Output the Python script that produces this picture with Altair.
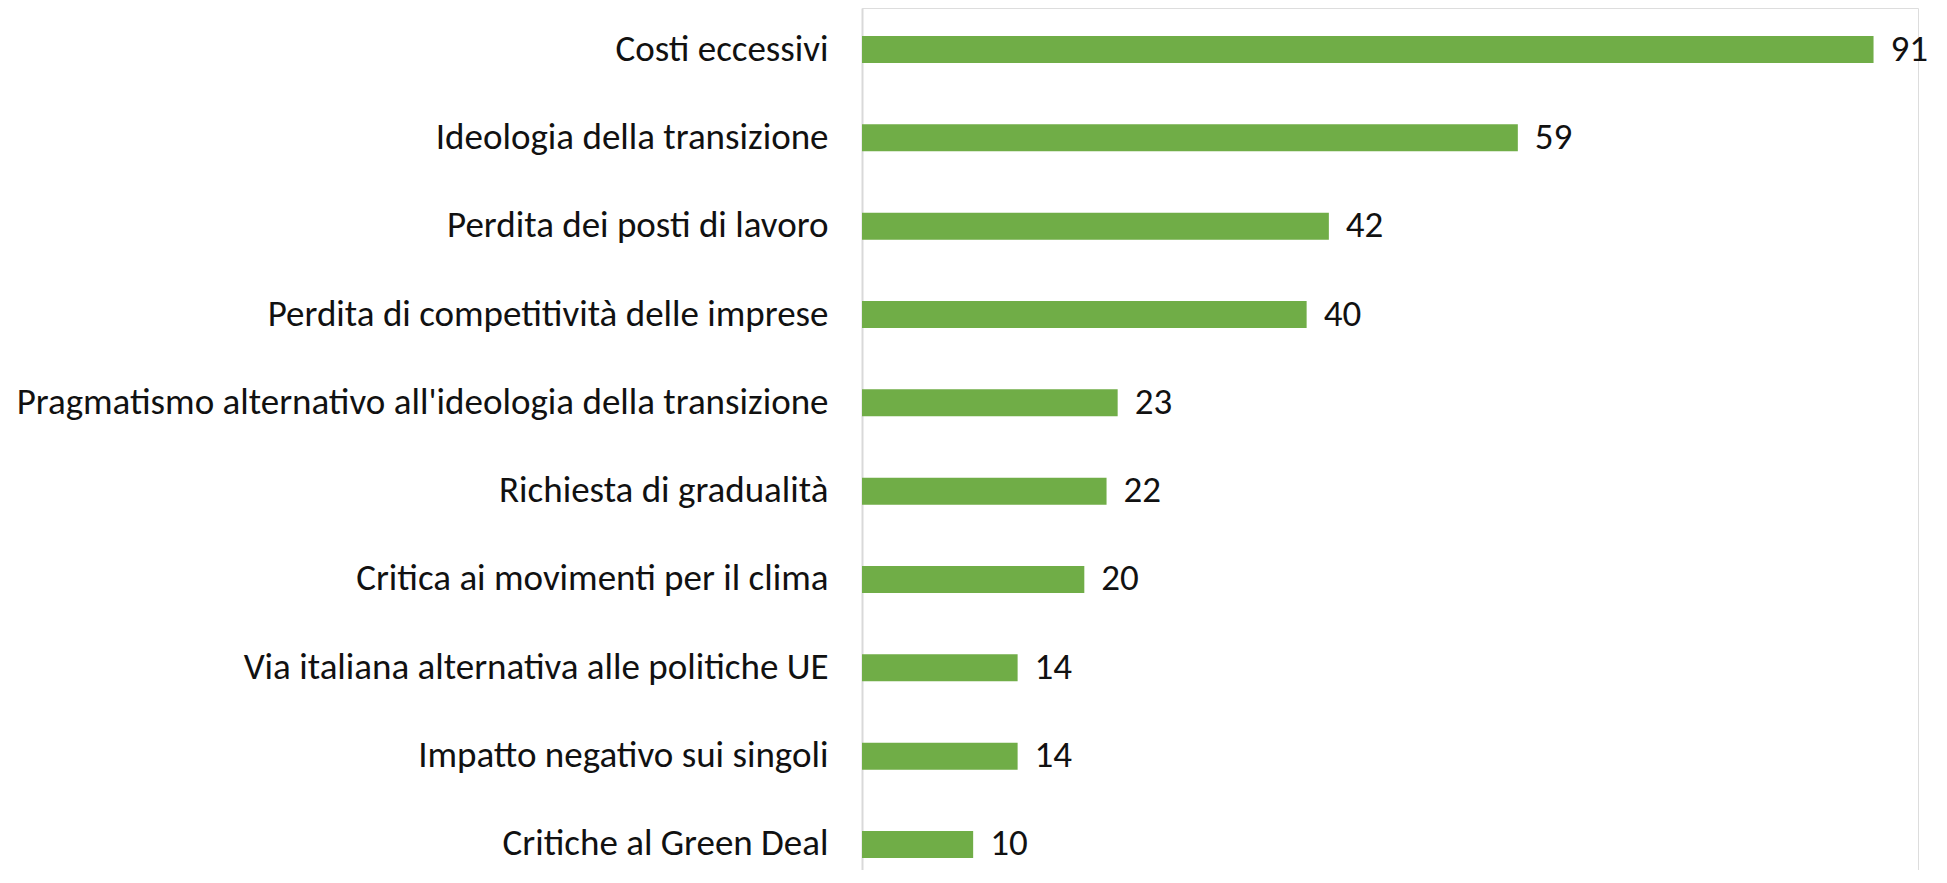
import altair as alt
import pandas as pd

categories = [
    "Costi eccessivi",
    "Ideologia della transizione",
    "Perdita dei posti di lavoro",
    "Perdita di competitività delle imprese",
    "Pragmatismo alternativo all'ideologia della transizione",
    "Richiesta di gradualità",
    "Critica ai movimenti per il clima",
    "Via italiana alternativa alle politiche UE",
    "Impatto negativo sui singoli",
    "Critiche al Green Deal",
]
values = [91, 59, 42, 40, 23, 22, 20, 14, 14, 10]

df = pd.DataFrame({"categoria": categories, "valore": values})

FONT = "Carlito, PT Sans Narrow, sans-serif"

y_enc = alt.Y(
    "categoria:N",
    sort=categories,
    scale=alt.Scale(range=[0, 878], paddingInner=0.694, paddingOuter=0.317),
    axis=alt.Axis(
        title=None,
        ticks=False,
        grid=False,
        labelFont=FONT,
        labelFontSize=37,
        labelColor="#111111",
        labelPadding=34,
        labelLimit=2000,
        domainColor="#d9d9d9",
        domainWidth=2,
    ),
)
x_enc = alt.X(
    "valore:Q",
    scale=alt.Scale(domain=[0, 95], nice=False),
    axis=None,
)

bars = alt.Chart(df).mark_bar(color="#70AD47").encode(x=x_enc, y=y_enc)
labels = alt.Chart(df).mark_text(
    align="left", baseline="middle", dx=17, font=FONT, fontSize=37, color="#111111"
).encode(x=x_enc, y=y_enc, text="valore:Q")

chart = (
    alt.layer(bars, labels)
    .properties(
        width=1056,
        height=862,
        autosize=alt.AutoSizeParams(type="none"),
        padding={"left": 854, "top": 0, "right": 20, "bottom": 0},
    )
    .configure_view(stroke="transparent", strokeWidth=0)
    .configure(background="white")
)

chart.save("out.html", embed_options={"renderer": "svg", "actions": False})
